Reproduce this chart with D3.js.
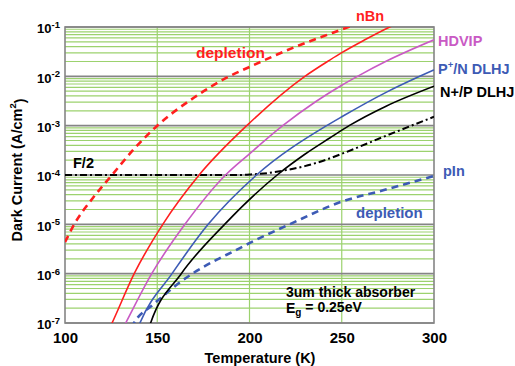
<!DOCTYPE html>
<html>
<head>
<meta charset="utf-8">
<script src="https://d3js.org/d3.v7.min.js"></script>
<style>
    body { margin: 0; background: #fff; }
    svg { font-family: "Liberation Sans", Arial, sans-serif; font-weight: bold; }
    .minor { stroke: #9cd26e; stroke-width: 1.2px; }
    .major { stroke: #858585; stroke-width: 1.6px; }
    .curve { fill: none; }
</style>
</head>
<body>
<svg width="515" height="366"></svg>
<script>
// [temperature (K), log10 of dark current (A/cm2)]
var nbnDepletion = [[100, -5.36], [105, -5.0], [115, -4.47], [125.5, -4.0], [137, -3.49], [150, -3.0],
    [170, -2.43], [189, -2.0], [200, -1.81], [225, -1.4], [243.5, -1.14], [250, -1.05], [256, -0.97], [260, -0.92]];
var nbn = [[124, -7.12], [125.5, -7.0], [137.5, -6.0], [153, -5.0], [172.7, -4.0], [198.5, -3.0],
    [230, -2.0], [243.5, -1.67], [250, -1.52], [262, -1.27], [276, -1.0], [280, -0.93]];
var hdvip = [[131.5, -7.1], [132.9, -7.0], [147, -6.0], [165, -5.0], [187, -4.0], [200, -3.57],
    [218, -3.0], [236, -2.51], [250, -2.18], [259, -1.99], [274.3, -1.69], [300, -1.26]];
var pnDlhj = [[139.5, -7.1], [140.6, -7.0], [158, -6.0], [177.6, -5.0], [203.8, -4.0], [241.8, -3.0],
    [250, -2.82], [274.3, -2.32], [290.5, -2.03], [300, -1.87]];
var npDlhj = [[145.5, -7.1], [146.4, -7.0], [163, -6.0], [186.5, -5.0], [215, -4.0], [230, -3.58],
    [243.5, -3.25], [254, -3.0], [274.3, -2.6], [300, -2.2]];
var fOver2 = [[100, -4.0], [195, -4.0], [200, -3.99], [210, -3.96], [220, -3.9], [230, -3.82],
    [240, -3.71], [250, -3.57], [275, -3.19], [300, -2.82]];
var pinDepletion = [[136, -7.1], [137.4, -7.0], [147, -6.65], [153.3, -6.45], [161.4, -6.2], [169, -6.0],
    [182.6, -5.71], [191.2, -5.55], [200, -5.38], [221.7, -5.0], [250, -4.54], [272.4, -4.31], [300, -4.02]];

var xTicks = [100, 150, 200, 250, 300];
var xGrid = [150, 200, 250];
var yDecades = [-7, -6, -5, -4, -3, -2, -1];

var svg = d3.select("svg"),
    margin = { top: 27, right: 81, bottom: 43, left: 65 },
    width = +svg.attr("width") - margin.left - margin.right,
    height = +svg.attr("height") - margin.top - margin.bottom;

var g = svg.append("g").attr("transform", "translate(" + margin.left + "," + margin.top + ")");

var x = d3.scaleLinear().domain([100, 300]).range([0, width]);
var y = d3.scaleLog().domain([1e-7, 1e-1]).range([height, 0]);

// minor grid: 2..9 in every decade
var minor = [];
yDecades.slice(0, -1).forEach(function (d) {
    for (var k = 2; k <= 9; k++) minor.push(k * Math.pow(10, d));
});
g.selectAll(".minor-h").data(minor).enter().append("line")
    .attr("class", "minor")
    .attr("x1", 0).attr("x2", width)
    .attr("y1", d => y(d)).attr("y2", d => y(d));
g.selectAll(".minor-v").data(xGrid).enter().append("line")
    .attr("class", "minor")
    .attr("x1", d => x(d)).attr("x2", d => x(d))
    .attr("y1", 0).attr("y2", height);
g.selectAll(".major-h").data(yDecades).enter().append("line")
    .attr("class", "major")
    .attr("x1", 0).attr("x2", width)
    .attr("y1", d => y(Math.pow(10, d))).attr("y2", d => y(Math.pow(10, d)));
g.append("rect")
    .attr("width", width).attr("height", height)
    .attr("fill", "none").attr("stroke", "#858585").attr("stroke-width", 1.6);

// axes
var yAxis = g.append("g")
    .call(d3.axisLeft(y).tickValues(yDecades.map(d => Math.pow(10, d))).tickSize(0).tickPadding(5).tickFormat(""));
yAxis.select(".domain").remove();
yAxis.selectAll(".tick text").each(function (d) {
    var t = d3.select(this).attr("font-size", 13).attr("fill", "#000").attr("dy", "0.45em");
    t.append("tspan").text("10");
    t.append("tspan").attr("font-size", 9.5).attr("dy", "-0.55em").text(Math.round(Math.log10(d)));
});

var xAxis = g.append("g")
    .attr("transform", "translate(0," + height + ")")
    .call(d3.axisBottom(x).tickValues(xTicks).tickSize(0).tickPadding(9));
xAxis.select(".domain").remove();
xAxis.selectAll(".tick text").attr("font-size", 15).attr("fill", "#000");

svg.append("text")
    .attr("x", 260).attr("y", 363)
    .attr("text-anchor", "middle").attr("font-size", 14.5)
    .text("Temperature (K)");

var yTitle = svg.append("text")
    .attr("transform", "translate(22,170) rotate(-90)")
    .attr("text-anchor", "middle").attr("font-size", 14.5);
yTitle.append("tspan").text("Dark Current (A/cm");
yTitle.append("tspan").attr("font-size", 9.5).attr("dy", "-0.6em").text("2");
yTitle.append("tspan").attr("dy", "0.6em").text(")");

// curves
svg.append("clipPath").attr("id", "plot").append("rect")
    .attr("width", width).attr("height", height);

var line = d3.line()
    .x(d => x(d[0]))
    .y(d => y(Math.pow(10, d[1])))
    .curve(d3.curveMonotoneX);

var series = [
    { data: fOver2, color: "#000", w: 2, dash: "7,3,2,3" },
    { data: pinDepletion, color: "#3d5bb5", w: 2.6, dash: "7,5" },
    { data: nbnDepletion, color: "#ff1f1f", w: 2.6, dash: "7,5" },
    { data: nbn, color: "#ff1f1f", w: 1.6, dash: null },
    { data: hdvip, color: "#c95ac4", w: 1.6, dash: null },
    { data: pnDlhj, color: "#3d5bb5", w: 1.6, dash: null },
    { data: npDlhj, color: "#000", w: 1.6, dash: null }
];

g.append("g").attr("clip-path", "url(#plot)")
    .selectAll("path").data(series).enter().append("path")
    .attr("class", "curve")
    .attr("d", d => line(d.data))
    .attr("stroke", d => d.color)
    .attr("stroke-width", d => d.w)
    .attr("stroke-dasharray", d => d.dash);

// labels
function label(tx, ty, txt, color, size) {
    return svg.append("text").attr("x", tx).attr("y", ty)
        .attr("fill", color).attr("font-size", size || 14.5).text(txt);
}
label(356, 21, "nBn", "#ff1f1f");
label(196, 58, "depletion", "#ff1f1f", 15.5);
label(438, 46, "HDVIP", "#c95ac4");
var pn = label(438, 74, "P", "#3d5bb5");
pn.append("tspan").attr("font-size", 9.5).attr("dy", "-0.6em").text("+");
pn.append("tspan").attr("dy", "0.4em").text("/N DLHJ");
label(440, 97, "N+/P DLHJ", "#000");
label(443, 176, "pIn", "#3d5bb5");
label(356, 218, "depletion", "#3d5bb5", 15);
label(73, 168, "F/2", "#000");
label(286, 297, "3um thick absorber", "#000", 14);
var eg = label(286, 313, "E", "#000", 14);
eg.append("tspan").attr("font-size", 10).attr("dy", "0.3em").text("g");
eg.append("tspan").attr("dy", "-0.3em").text(" = 0.25eV");
</script>
</body>
</html>
